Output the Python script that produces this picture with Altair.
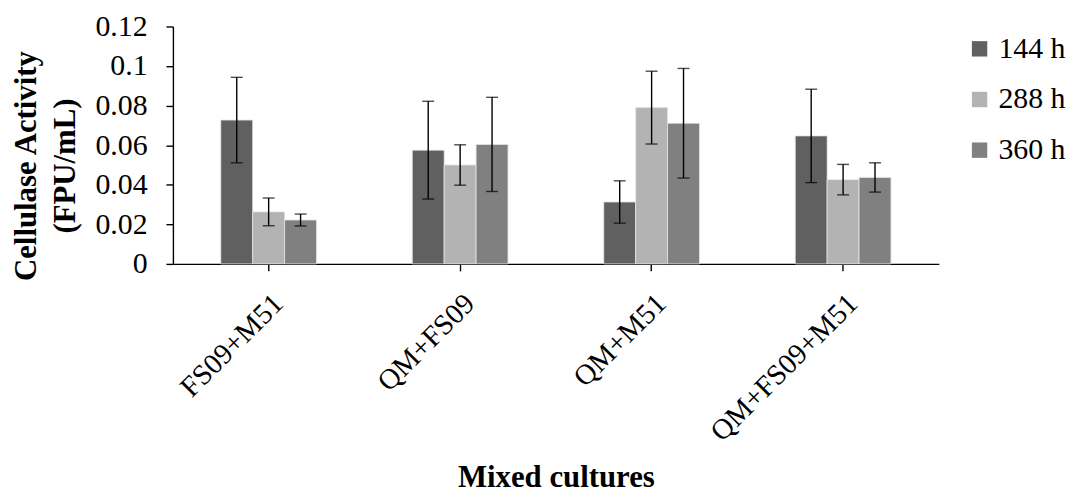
import altair as alt
import pandas as pd

categories = ["FS09+M51", "QM+FS09", "QM+M51", "QM+FS09+M51"]
series = ["144 h", "288 h", "360 h"]
colors = ["#606060", "#b3b3b3", "#808080"]

h144 = [0.0727, 0.0575, 0.0313, 0.0647]
h288 = [0.0263, 0.0500, 0.0790, 0.0426]
h360 = [0.0222, 0.0604, 0.0711, 0.0437]
err144 = [0.0216, 0.0247, 0.0107, 0.0236]
err288 = [0.0070, 0.0102, 0.0184, 0.0077]
err360 = [0.0030, 0.0238, 0.0277, 0.0074]

y_ticks = [0, 0.02, 0.04, 0.06, 0.08, 0.1, 0.12]

rows = []
for s, vals, errs in zip(series, [h144, h288, h360], [err144, err288, err360]):
    for c, v, e in zip(categories, vals, errs):
        rows.append({"cat": c, "series": s, "value": v, "lo": v - e, "hi": v + e})
df = pd.DataFrame(rows)

FONT = "Liberation Serif"

yscale = alt.Scale(domain=[0, 0.12], nice=False, zero=True)
y_axis = alt.Axis(
    values=y_ticks,
    labelExpr="datum.value + ''",
    title=["Cellulase Activity", "(FPU/mL)"],
    titleFont=FONT,
    titleFontSize=31,
    titleFontWeight="bold",
    titleLineHeight=39,
    titleAngle=270,
    titleAlign="center",
    titleBaseline="alphabetic",
    titleX=-138,
    titleY=140,
    labelFont=FONT,
    labelFontSize=30,
    labelPadding=19,
    labelBaseline="middle",
    tickSize=7,
    grid=False,
)

x_axis = alt.Axis(
    title="Mixed cultures",
    titleFont=FONT,
    titleFontSize=31,
    titleFontWeight="bold",
    titleBaseline="alphabetic",
    titleAnchor="middle",
    titleY=224,
    labelFont=FONT,
    labelFontSize=29,
    labelAngle=-45,
    labelAlign="right",
    labelBaseline="top",
    labelPadding=18,
    labelLimit=0,
    tickSize=7,
    grid=False,
)

base = alt.Chart(df).encode(
    x=alt.X("cat:N", sort=categories,
            scale=alt.Scale(paddingInner=0.5, paddingOuter=0.25),
            axis=x_axis),
    xOffset=alt.XOffset("series:N", sort=series,
                        scale=alt.Scale(paddingInner=0, paddingOuter=0)),
)

bars = base.mark_bar(stroke="#e6e6e6", strokeWidth=0.8).encode(
    y=alt.Y("value:Q", scale=yscale, axis=y_axis),
    color=alt.Color(
        "series:N",
        sort=series,
        scale=alt.Scale(domain=series, range=colors),
        legend=alt.Legend(
            title=None,
            orient="none",
            legendX=797,
            legendY=7.5,
            symbolType="square",
            symbolSize=240,
            symbolStrokeWidth=0,
            labelFont=FONT,
            labelFontSize=30,
            labelOffset=4,
            labelLimit=0,
            rowPadding=21,
            padding=0,
        ),
    ),
)

rules = base.mark_rule(color="black", strokeWidth=1.4).encode(
    y=alt.Y("lo:Q", scale=yscale, axis=y_axis),
    y2="hi:Q",
)
cap_hi = base.mark_tick(color="black", thickness=1.4, size=12).encode(
    y=alt.Y("hi:Q", scale=yscale, axis=y_axis)
)
cap_lo = base.mark_tick(color="black", thickness=1.4, size=12).encode(
    y=alt.Y("lo:Q", scale=yscale, axis=y_axis)
)

chart = (
    alt.layer(bars, rules, cap_hi, cap_lo)
    .properties(
        width=771,
        height=239,
        autosize=alt.AutoSizeParams(type="none"),
        padding={"left": 166, "top": 17, "right": 128, "bottom": 230},
    )
    .configure_view(stroke=None)
    .configure_axis(domainColor="black", tickColor="black", domainWidth=1.4,
                    tickWidth=1.4, labelColor="black", titleColor="black")
    .configure_legend(labelColor="black")
)

chart.save("out.html", embed_options={"renderer": "svg", "actions": False})
